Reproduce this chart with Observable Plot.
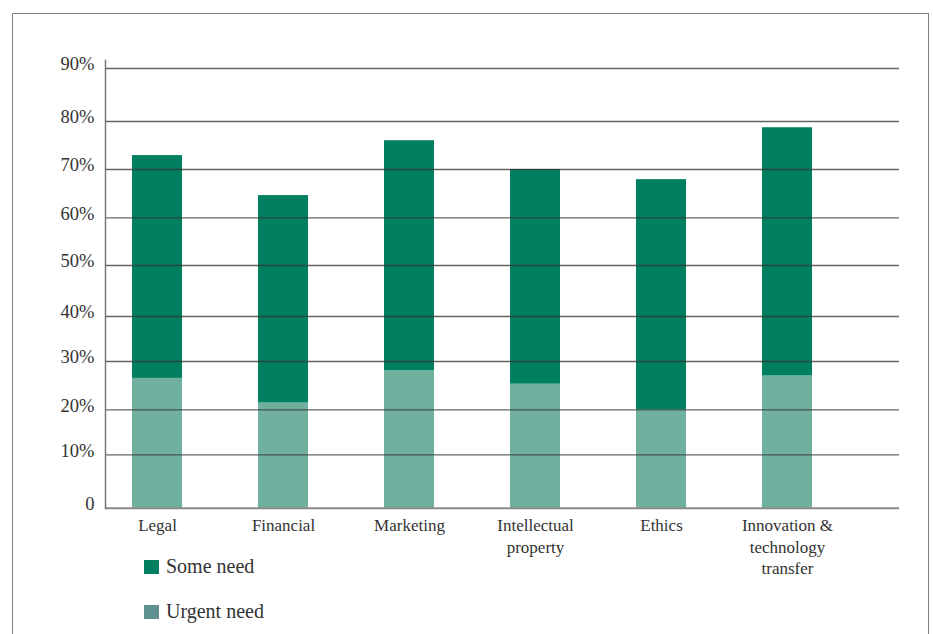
<!DOCTYPE html>
<html>
<head>
<meta charset="utf-8">
<script src="https://cdn.jsdelivr.net/npm/d3@7"></script>
<script src="https://cdn.jsdelivr.net/npm/@observablehq/plot@0.6"></script>
<style>
  html, body { margin: 0; padding: 0; background: #fff; overflow: hidden; }
  #wrap { position: relative; width: 933px; height: 634px; font-family: "Liberation Serif", serif; color: #333; }
  #border { position: absolute; left: 12px; top: 13px; width: 917px; height: 700px; border: 1.5px solid #808080; box-sizing: border-box; }
  #chart { position: absolute; left: 0; top: 0; }
  .legend-item { position: absolute; left: 144px; display: flex; align-items: center; font-size: 20px; color: #333; }
  .swatch { width: 15px; height: 14px; margin-right: 7px; }
</style>
</head>
<body>
<div id="wrap">
  <div id="border"></div>
  <div id="chart"></div>
  <div id="legend"></div>
</div>
<script>
// ---- data ----
const categories = ["Legal", "Financial", "Marketing", "Intellectual\nproperty", "Ethics", "Innovation &\ntechnology\ntransfer"];
const urgentNeed = [26.5, 21.4, 28.1, 25.3, 20.0, 27.0];
const someNeed   = [46.4, 43.2, 47.9, 44.7, 47.9, 51.7];
const seriesNames = ["Some need", "Urgent need"];
const yTicks = [0, 10, 20, 30, 40, 50, 60, 70, 80, 90];

const barColors = ["#008060", "#70b09f"];
const legendColors = ["#008060", "#5f9191"];

const rows = [];
categories.forEach((c, i) => {
  rows.push({category: c, series: "Urgent need", value: urgentNeed[i]});
  rows.push({category: c, series: "Some need", value: someNeed[i]});
});

const plot = Plot.plot({
  width: 933,
  height: 634,
  marginLeft: 105,
  marginRight: 34,
  marginTop: 60,
  marginBottom: 126,
  style: {fontFamily: "Liberation Serif, serif", fontSize: "17px", color: "#333", background: "transparent"},
  x: {
    domain: categories,
    range: [93.35, 851.15],
    paddingInner: 0.6,
    paddingOuter: 0.3,
    label: null
  },
  y: {
    type: "linear",
    domain: yTicks,
    range: [507.7, 454.3, 409.3, 361, 316, 265, 217.3, 169, 121, 68],
    label: null
  },
  color: {domain: seriesNames, range: barColors},
  marks: [
    Plot.barY(rows, Plot.stackY({
      x: "category",
      y: "value",
      fill: "series",
      order: ["Urgent need", "Some need"]
    })),
    Plot.ruleY(yTicks.filter(d => d > 0), {stroke: "#333", strokeOpacity: 0.75, strokeWidth: 1.3}),
    Plot.ruleY([0], {stroke: "#888", strokeWidth: 2}),
    Plot.frame({anchor: "left", stroke: "#777", strokeWidth: 1.5}),
    Plot.axisY(yTicks, {
      tickSize: 0,
      tickPadding: 11,
      fontSize: 18.5,
      dy: -4,
      tickFormat: d => d === 0 ? "0" : d + "%",
      label: null
    }),
    Plot.axisX({
      tickSize: 0,
      tickPadding: 8,
      fontSize: 17,
      lineHeight: 1.24,
      label: null
    })
  ]
});
document.getElementById("chart").appendChild(plot);

// legend
const legend = document.getElementById("legend");
const legendTops = [559, 604];
seriesNames.forEach((name, i) => {
  const item = document.createElement("div");
  item.className = "legend-item";
  item.style.top = (legendTops[i] - 4) + "px";
  const sw = document.createElement("div");
  sw.className = "swatch";
  sw.style.background = legendColors[i];
  const label = document.createElement("span");
  label.textContent = name;
  item.appendChild(sw);
  item.appendChild(label);
  legend.appendChild(item);
});
</script>
</body>
</html>
